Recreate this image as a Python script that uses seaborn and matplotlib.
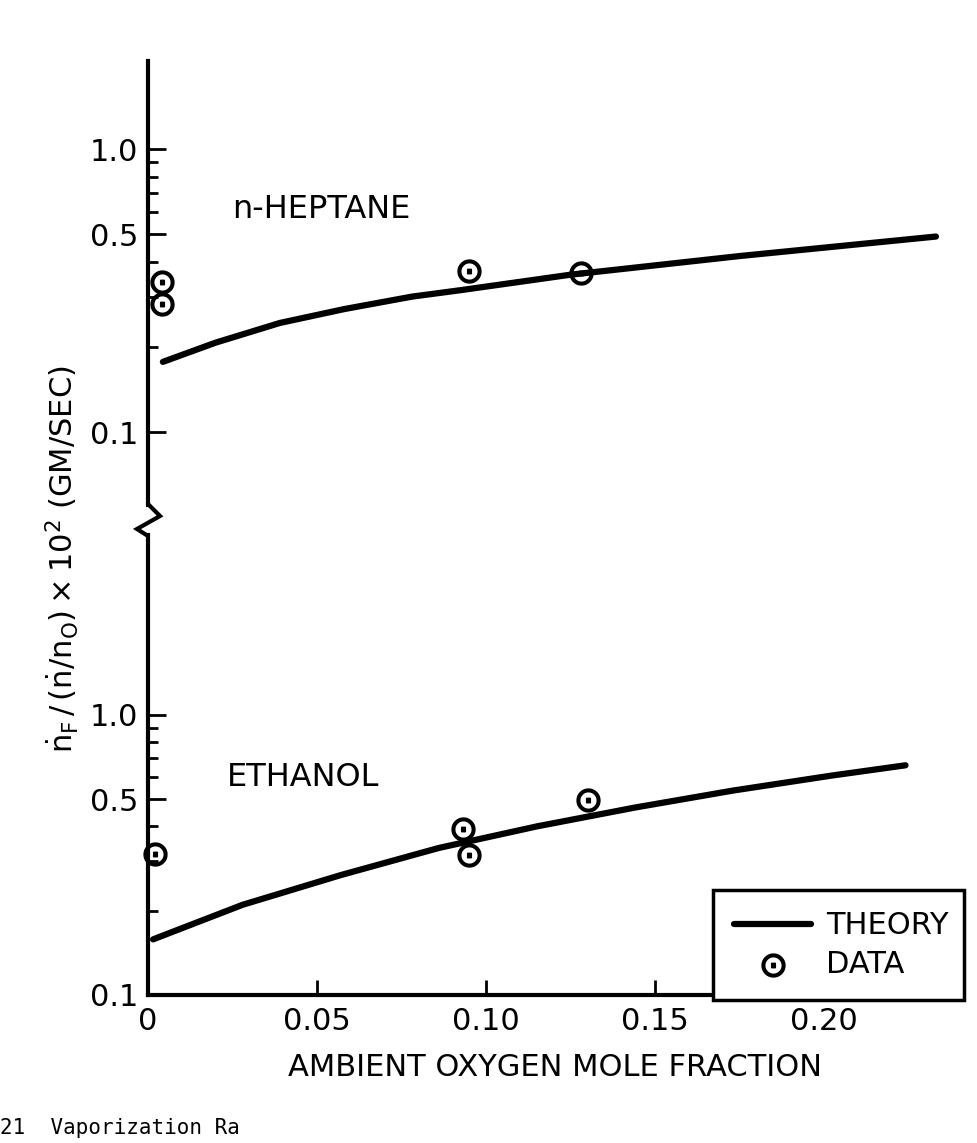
import numpy as np
import pandas as pd
import matplotlib
matplotlib.use("Agg")
import matplotlib.pyplot as plt
import seaborn as sns
from matplotlib.lines import Line2D

# ---------------- data ----------------
heptane_theory_x = [0.0044, 0.020, 0.039, 0.058, 0.078, 0.093, 0.125, 0.175, 0.233]
heptane_theory_y = [0.177, 0.207, 0.243, 0.272, 0.301, 0.318, 0.360, 0.419, 0.491]
heptane_data_x = [0.004, 0.004, 0.095, 0.128]
heptane_data_y = [0.338, 0.284, 0.370, 0.365]

ethanol_theory_x = [0.0015, 0.028, 0.057, 0.086, 0.115, 0.144, 0.173, 0.202, 0.224]
ethanol_theory_y = [0.158, 0.210, 0.268, 0.335, 0.400, 0.467, 0.537, 0.607, 0.661]
ethanol_data_x = [0.002, 0.093, 0.095, 0.130]
ethanol_data_y = [0.319, 0.393, 0.316, 0.497]

x_ticks = [0.0, 0.05, 0.10, 0.15, 0.20]
x_tick_labels = ["0", "0.05", "0.10", "0.15", "0.20"]
y_major = [0.1, 0.5, 1.0]
y_major_labels = ["0.1", "0.5", "1.0"]
y_minor = [0.2, 0.3, 0.4, 0.6, 0.7, 0.8, 0.9]

# ---------------- style ----------------
sns.set_style("ticks")
plt.rcParams["font.family"] = ["DejaVu Sans"]
plt.rcParams["mathtext.fontset"] = "dejavusans"
for key in ("text.color", "axes.labelcolor", "xtick.color", "ytick.color",
            "axes.edgecolor"):
    plt.rcParams[key] = "black"

W, H = 978, 1143
fig = plt.figure(figsize=(W / 100, H / 100), dpi=100)


def fx(px):
    return px / W


def fy(py):
    return 1 - py / H


LEFT, RIGHT = 148, 963
ax_top = fig.add_axes([fx(LEFT), fy(505), (RIGHT - LEFT) / W, (505 - 61) / H])
ax_bot = fig.add_axes([fx(LEFT), fy(995), (RIGHT - LEFT) / W, (995 - 535) / H])

DOT = r"$\odot$"
LW_CURVE = 4.5
MS = 270
MEW = 1.1
for ax in (ax_top, ax_bot):
    ax.set_yscale("log")

# heptane (upper panel)
sns.lineplot(data=pd.DataFrame({"x": heptane_theory_x, "y": heptane_theory_y}),
             x="x", y="y", ax=ax_top, color="black", lw=LW_CURVE,
             estimator=None, sort=True, legend=False)
sns.scatterplot(data=pd.DataFrame({"x": heptane_data_x, "y": heptane_data_y}),
                x="x", y="y", ax=ax_top, marker=DOT, s=MS, color="black",
                edgecolor="black", linewidth=MEW, clip_on=False, legend=False)

# ethanol (lower panel)
sns.lineplot(data=pd.DataFrame({"x": ethanol_theory_x, "y": ethanol_theory_y}),
             x="x", y="y", ax=ax_bot, color="black", lw=LW_CURVE,
             estimator=None, sort=True, label="THEORY")
sns.scatterplot(data=pd.DataFrame({"x": ethanol_data_x, "y": ethanol_data_y}),
                x="x", y="y", ax=ax_bot, marker=DOT, s=MS, color="black",
                edgecolor="black", linewidth=MEW, clip_on=False, label="DATA")

TICK_FS = 22
for ax, ylim in ((ax_top, (0.0552, 2.05)), (ax_bot, (0.1, 4.39))):
    ax.set_xlim(0, 0.241)
    ax.set_ylim(*ylim)
    ax.set_yticks(y_major, labels=y_major_labels)
    ax.set_yticks(y_minor, minor=True)
    ax.set_yticklabels([], minor=True)
    ax.tick_params(axis="y", which="major", direction="in", length=13,
                   width=2, labelsize=TICK_FS, pad=7)
    ax.tick_params(axis="y", which="minor", direction="in", length=7, width=2)
    ax.spines["right"].set_visible(False)
    ax.spines["top"].set_visible(False)
    ax.spines["left"].set_linewidth(3)
    ax.spines["bottom"].set_linewidth(3)
    ax.set_ylabel("")
    ax.set_xlabel("")
    ax.patch.set_alpha(0)

ax_top.spines["bottom"].set_visible(False)
ax_top.tick_params(axis="x", which="both", bottom=False, labelbottom=False)

ax_bot.set_xticks(x_ticks, labels=x_tick_labels)
ax_bot.tick_params(axis="x", which="major", direction="in", length=11,
                   width=2, labelsize=TICK_FS, pad=9)
ax_bot.set_xlabel("AMBIENT OXYGEN MOLE FRACTION", fontsize=22, labelpad=12)

# series names
ax_top.text(0.0249, 0.614, "n-HEPTANE", fontsize=23, ha="left", va="center")
ax_bot.text(0.0234, 0.60, "ETHANOL", fontsize=23, ha="left", va="center")

# shared y label
fig.text(fx(62), fy(559),
         r"$\dot{\mathrm{n}}_\mathrm{F}\,/\,(\dot{\mathrm{n}}/\mathrm{n}_\mathrm{O})\times 10^2$ (GM/SEC)",
         rotation=90, ha="center", va="center", fontsize=22)

# axis break squiggle
zig_x = [LEFT, LEFT + 12, LEFT - 11, LEFT]
zig_y = [504, 516, 529, 536]
fig.add_artist(Line2D([fx(v) for v in zig_x], [fy(v) for v in zig_y],
                      transform=fig.transFigure, color="black", lw=3,
                      solid_joinstyle="miter"))

# legend box
leg = ax_bot.legend(loc="lower left",
                    bbox_to_anchor=(fx(713), fy(1000), (964 - 713) / W, (1000 - 882) / H),
                    bbox_transform=fig.transFigure, mode="expand",
                    frameon=True, fancybox=False, edgecolor="black", framealpha=1,
                    fontsize=22, handlelength=2.5, handletextpad=0.5,
                    borderpad=0.7, labelspacing=0.3, borderaxespad=0)
leg.get_frame().set_linewidth(2.5)

# caption fragment at the bottom of the scanned page
fig.text(0.0, fy(1128), "21  Vaporization Ra", fontsize=15,
         family=["DejaVu Sans Mono"], ha="left", va="center")

fig.savefig("out.png", dpi=100)
